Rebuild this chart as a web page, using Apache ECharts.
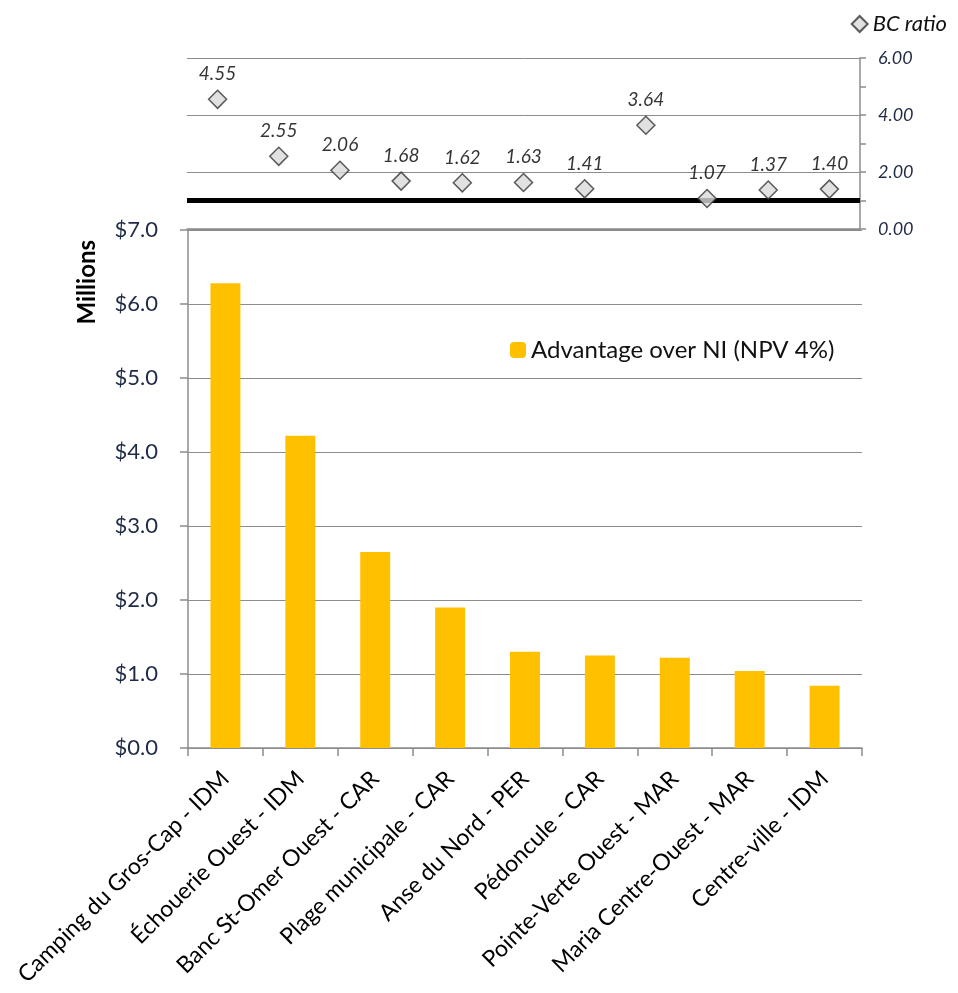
<!DOCTYPE html>
<html>
<head>
<meta charset="utf-8">
<script src="https://cdn.jsdelivr.net/npm/echarts@6/dist/echarts.min.js"></script>
<style>
html,body{margin:0;padding:0;background:#fff;}
#chart{width:958px;height:993px;}
</style>
</head>
<body>
<div id="chart"></div>
<script>
// Bottom panel: sites and advantage over NI (NPV 4%), $ millions
const categories = [
  'Camping du Gros-Cap - IDM',
  'Échouerie Ouest - IDM',
  'Banc St-Omer Ouest - CAR',
  'Plage municipale - CAR',
  'Anse du Nord - PER',
  'Pédoncule - CAR',
  'Pointe-Verte Ouest - MAR',
  'Maria Centre-Ouest - MAR',
  'Centre-ville - IDM'
];
const advantageValues = [6.28, 4.22, 2.65, 1.90, 1.30, 1.25, 1.22, 1.04, 0.84];

// Top panel: BC ratio points (11 positions)
const bcPositions = ['1','2','3','4','5','6','7','8','9','10','11'];
const bcValues = [4.55, 2.55, 2.06, 1.68, 1.62, 1.63, 1.41, 3.64, 1.07, 1.37, 1.40];
const bcThreshold = 1.0;

const FONT = 'Lato, "Open Sans", sans-serif';
const chart = echarts.init(document.getElementById('chart'));

chart.setOption({
  backgroundColor: '#fff',
  animation: false,
  textStyle: { fontFamily: FONT },
  legend: [
    {
      data: ['BC ratio'],
      right: 6, top: 8,
      itemWidth: 16, itemHeight: 16,
      itemGap: 8,
      textStyle: { fontFamily: FONT, fontSize: 22, fontStyle: 'italic', color: '#111' }
    },
    {
      data: ['Advantage over NI (NPV 4%)'],
      left: 505, top: 333,
      itemWidth: 16, itemHeight: 16,
      itemGap: 7,
      textStyle: { fontFamily: FONT, fontSize: 24, color: '#111' }
    }
  ],
  graphic: [
    {
      type: 'text',
      left: 75, top: 240,
      rotation: Math.PI / 2,
      style: { text: 'Millions', fontFamily: FONT, fontSize: 24, fontWeight: 'bold', fill: '#000' }
    }
  ],
  grid: [
    { left: 187, right: 98, top: 58, height: 171 },
    { left: 188, right: 96, top: 230, height: 518 }
  ],
  xAxis: [
    {
      type: 'category', gridIndex: 0, data: bcPositions,
      axisLine: { show: true, lineStyle: { color: '#8c8c8c', width: 1.5 } },
      axisTick: { show: false },
      axisLabel: { show: false }
    },
    {
      type: 'category', gridIndex: 1, data: categories,
      axisLine: { show: true, lineStyle: { color: '#8c8c8c', width: 1.5 } },
      axisTick: { show: true, length: 8, lineStyle: { color: '#8c8c8c', width: 1.5 } },
      axisLabel: { interval: 0, rotate: 45, fontSize: 23, color: '#000', margin: 27, fontFamily: FONT }
    }
  ],
  yAxis: [
    {
      type: 'value', gridIndex: 0, position: 'right',
      min: 0, max: 6, interval: 2,
      axisLine: { show: true, lineStyle: { color: '#8c8c8c', width: 1.5 } },
      axisTick: { show: true, length: 6, lineStyle: { color: '#8c8c8c', width: 1.5 } },
      minorTick: { show: true, splitNumber: 2, length: 6, lineStyle: { color: '#8c8c8c', width: 1.5 } },
      splitLine: { show: true, lineStyle: { color: '#8c8c8c', width: 1 } },
      axisLabel: {
        margin: 18, fontSize: 18, fontStyle: 'italic', color: '#1f2a44', fontFamily: FONT,
        formatter: v => v.toFixed(2)
      }
    },
    {
      type: 'value', gridIndex: 1,
      min: 0, max: 7, interval: 1,
      axisLine: { show: true, lineStyle: { color: '#8c8c8c', width: 1.5 } },
      axisTick: { show: true, length: 8, lineStyle: { color: '#8c8c8c', width: 1.5 } },
      splitLine: { show: true, lineStyle: { color: '#8c8c8c', width: 1 } },
      axisLabel: {
        margin: 30, fontSize: 22, color: '#1f2a44', fontFamily: FONT,
        formatter: v => '$' + v.toFixed(1)
      }
    }
  ],
  series: [
    {
      name: 'BC ratio', type: 'scatter',
      xAxisIndex: 0, yAxisIndex: 0,
      data: bcValues,
      symbol: 'diamond', symbolSize: 18,
      itemStyle: { color: '#d9d9d9', borderColor: '#333', borderWidth: 1.5 },
      label: {
        show: true, position: 'top', distance: 6,
        fontFamily: FONT, fontSize: 19, fontStyle: 'italic', color: '#000',
        formatter: p => p.value.toFixed(2)
      },
      markLine: {
        silent: true, symbol: 'none',
        label: { show: false },
        lineStyle: { color: '#000', width: 5, type: 'solid' },
        data: [{ yAxis: bcThreshold }]
      },
      z: 5
    },
    {
      name: 'Advantage over NI (NPV 4%)', type: 'bar',
      xAxisIndex: 1, yAxisIndex: 1,
      data: advantageValues,
      barWidth: '40%',
      itemStyle: { color: '#FFC000' }
    }
  ]
});
</script>
</body>
</html>
